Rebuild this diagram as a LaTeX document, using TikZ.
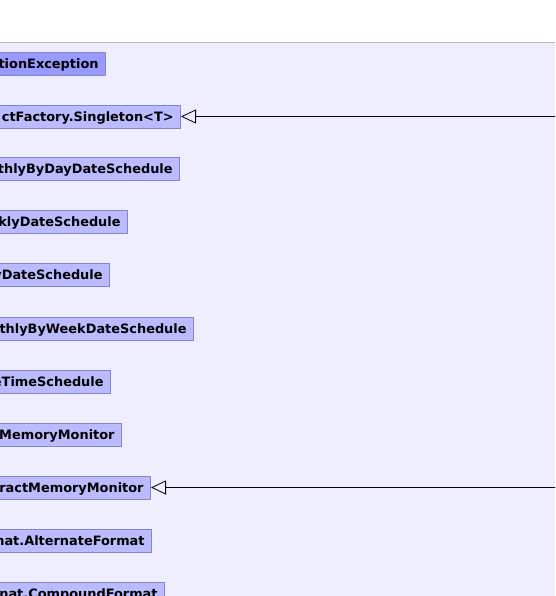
\documentclass[tikz,border=0pt]{standalone}
\usepackage{fontspec}
\setmainfont{DejaVu Sans}
\usetikzlibrary{arrows.meta}
\definecolor{bgc}{HTML}{EEEEFF}
\definecolor{boxfill}{HTML}{BBBBFF}
\definecolor{boxdark}{HTML}{9999FF}
\definecolor{boxline}{HTML}{8484C8}
\definecolor{topline}{HTML}{B8B8C0}
\tikzset{
  cls/.style={draw=boxline, fill=boxfill, line width=0.8pt, anchor=east,
    text width=400pt, align=right, minimum height=23pt, inner xsep=7pt, inner ysep=0pt,
    text height=9.5pt, text depth=0pt,
    font=\fontsize{12.9}{15}\selectfont\bfseries, text=black},
  clsdark/.style={cls, fill=boxdark},
  inherit/.style={-{Triangle[open, length=15pt, width=14pt]}, line width=0.8pt, black},
}
\begin{document}
\begin{tikzpicture}[x=1pt, y=-1pt]
\useasboundingbox (0,0) rectangle (555,596);
\clip (0,0) rectangle (555,596);
\fill[white] (0,0) rectangle (555,42);
\fill[bgc] (0,42) rectangle (555,596);
\draw[topline, line width=0.8pt] (0,42) -- (555,42);
\node[clsdark] (n1) at (106,63.5) {tionException};
\node[cls] (n2) at (181,116.5) {ctFactory.Singleton<T>};
\node[cls] (n3) at (180,168.5) {thlyByDayDateSchedule};
\node[cls] (n4) at (128,221.5) {klyDateSchedule};
\node[cls] (n5) at (110,274.5) {yDateSchedule};
\node[cls] (n6) at (194,328.5) {thlyByWeekDateSchedule};
\node[cls] (n7) at (111,381.5) {eTimeSchedule};
\node[cls] (n8) at (122,434.5) {tMemoryMonitor};
\node[cls] (n9) at (151,487.5) {ractMemoryMonitor};
\node[cls] (n10) at (152,540.5) {nat.AlternateFormat};
\node[cls] (n11) at (165,593.5) {nat.CompoundFormat};
\coordinate (s2) at (560,116.5);
\coordinate (s9) at (560,487.5);
\draw[inherit] (s2) -- (n2.east);
\draw[inherit] (s9) -- (n9.east);
\end{tikzpicture}
\end{document}
